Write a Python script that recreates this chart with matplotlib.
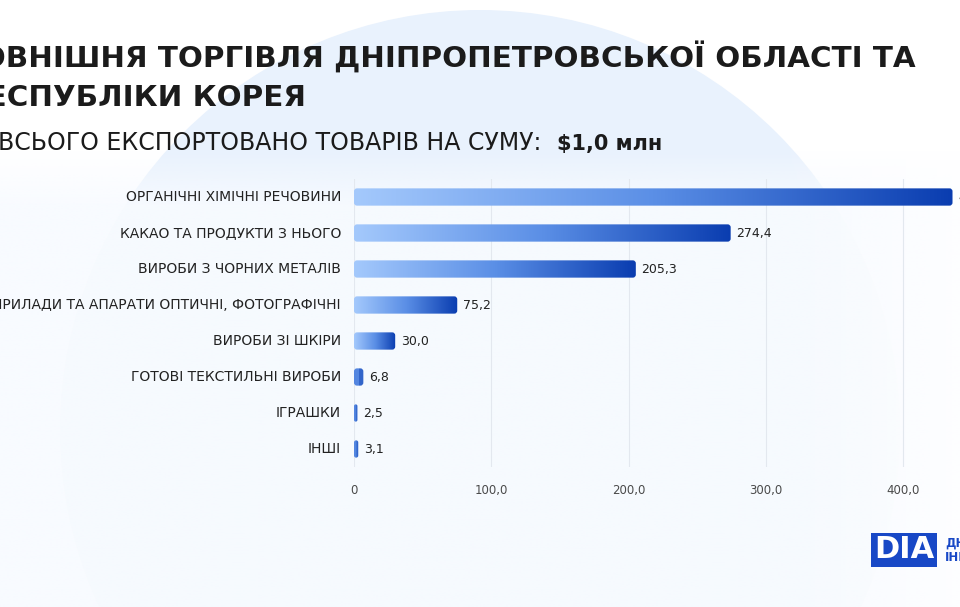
import matplotlib.pyplot as plt
import numpy as np
from matplotlib.colors import LinearSegmentedColormap, to_rgb
from matplotlib.patches import FancyBboxPatch, Circle

# data
categories = ['ОРГАНІЧНІ ХІМІЧНІ РЕЧОВИНИ', 'КАКАО ТА ПРОДУКТИ З НЬОГО',
              'ВИРОБИ З ЧОРНИХ МЕТАЛІВ', 'ПРИЛАДИ ТА АПАРАТИ ОПТИЧНІ, ФОТОГРАФІЧНІ',
              'ВИРОБИ ЗІ ШКІРИ', 'ГОТОВІ ТЕКСТИЛЬНІ ВИРОБИ', 'ІГРАШКИ', 'ІНШІ']
values = [436.0, 274.4, 205.3, 75.2, 30.0, 6.8, 2.5, 3.1]
value_labels = ['436,0', '274,4', '205,3', '75,2', '30,0', '6,8', '2,5', '3,1']
xticks = [0, 100, 200, 300, 400]
xtick_labels = ['0', '100,0', '200,0', '300,0', '400,0']

plt.rcParams['font.family'] = ['DejaVu Sans']

W, H = 960, 607
fig = plt.figure(figsize=(9.6, 6.07), dpi=100)
fig.patch.set_facecolor('white')

# background: pale circle at the top, soft veil over the chart area
bg = fig.add_axes([0, 0, 1, 1], zorder=-5)
bg.axis('off')
bg.add_patch(Circle((480, 430), 420, color='#e9f2fd', lw=0))
ny = 300
veil = np.clip(np.linspace(0, 1, ny) / 0.12, 0, 1)[:, None] * 0.9
veil = np.repeat(veil, 2, axis=1)
vc = np.ones((ny, 2, 3)) * np.array(to_rgb('#f8fbff'))
bg.imshow(np.dstack([vc, veil[..., None]]), extent=(0, 960, 607, 150), aspect='auto', zorder=2)
wash = np.linspace(0, 1, 200)[None, :] ** 1.5
bg.imshow(np.dstack([np.ones((1, 200, 3)), wash[..., None] * 0.8]), extent=(760, 960, 607, 60),
          aspect='auto', zorder=3)
bg.set_xlim(0, W)
bg.set_ylim(H, 0)

# main axes
left_px, right_px = 354, 958
top_px, bot_px = 179, 467
ax = fig.add_axes([left_px / W, 1 - bot_px / H, (right_px - left_px) / W, (bot_px - top_px) / H])
ax.patch.set_alpha(0)
xmax = 440

px_x = (right_px - left_px) / xmax
px_y = (bot_px - top_px) / len(values)

cmap = LinearSegmentedColormap.from_list('bar', ['#a4c9fc', '#5b8fe6', '#0a3db0'])
grad = np.linspace(0, 1, 256)[None, :]
bh = 0.48
for i, v in enumerate(values):
    r = min(3.0 / px_x, v / 2)
    patch = FancyBboxPatch((0, i - bh / 2), v, bh,
                           boxstyle='round,pad=0,rounding_size=%f' % r,
                           mutation_aspect=px_x / px_y, fc='none', ec='none')
    ax.add_patch(patch)
    if v < 10:
        im = ax.imshow([[0.55, 0.75]], cmap=cmap, vmin=0, vmax=1,
                       extent=(0, v, i + bh / 2, i - bh / 2), aspect='auto', zorder=3)
    else:
        im = ax.imshow(grad, cmap=cmap, extent=(0, v, i + bh / 2, i - bh / 2),
                       aspect='auto', zorder=3)
    im.set_clip_path(patch)
    ax.text(v + 5.5 / px_x, i, value_labels[i], va='center', ha='left', fontsize=9,
            color='#222222', clip_on=False)
    ax.text(-13 / px_x, i, categories[i], va='center', ha='right', fontsize=10,
            color='#222222', clip_on=False)

ax.set_xlim(0, xmax)
ax.set_ylim(len(values) - 0.5, -0.5)
ax.set_xticks(xticks)
ax.set_xticklabels(xtick_labels, fontsize=8.5, color='#4a4a4a')
ax.set_yticks([])
ax.tick_params(axis='x', length=0, pad=12)
ax.grid(axis='x', color='#e3e8ef', lw=0.8)
ax.set_axisbelow(True)
for s in ax.spines.values():
    s.set_visible(False)

# titles: right ends fixed, left side runs off the edge as in the reference
fig.text(916 / W, 1 - 68 / H, 'ЗОВНІШНЯ ТОРГІВЛЯ ДНІПРОПЕТРОВСЬКОЇ ОБЛАСТІ ТА',
         fontsize=21.2, fontweight='bold', color='#1b1b1b', ha='right')
fig.text(306 / W, 1 - 106 / H, 'РЕСПУБЛІКИ КОРЕЯ',
         fontsize=21.2, fontweight='bold', color='#1b1b1b', ha='right')
fig.text(541 / W, 1 - 150 / H, 'ВСЬОГО ЕКСПОРТОВАНО ТОВАРІВ НА СУМУ:',
         fontsize=17, color='#1b1b1b', ha='right')
fig.text(557 / W, 1 - 150 / H, '$1,0 млн', fontsize=15, fontweight='bold', color='#1b1b1b')

# logo
fig.text(904 / W, 1 - 550 / H, 'DIA', fontsize=22, fontweight='bold', color='white',
         ha='center', va='center',
         bbox=dict(boxstyle='square,pad=0.08', fc='#1848c6', ec='none'))
fig.text(945 / W, 1 - 543 / H, 'ДНІПРО', fontsize=8.5, fontweight='bold', color='#1848c6',
         va='center')
fig.text(945 / W, 1 - 557 / H, 'ІННОВАЦІЇ', fontsize=8.5, fontweight='bold', color='#1848c6',
         va='center')

fig.savefig('out.png', dpi=100, facecolor='white')
